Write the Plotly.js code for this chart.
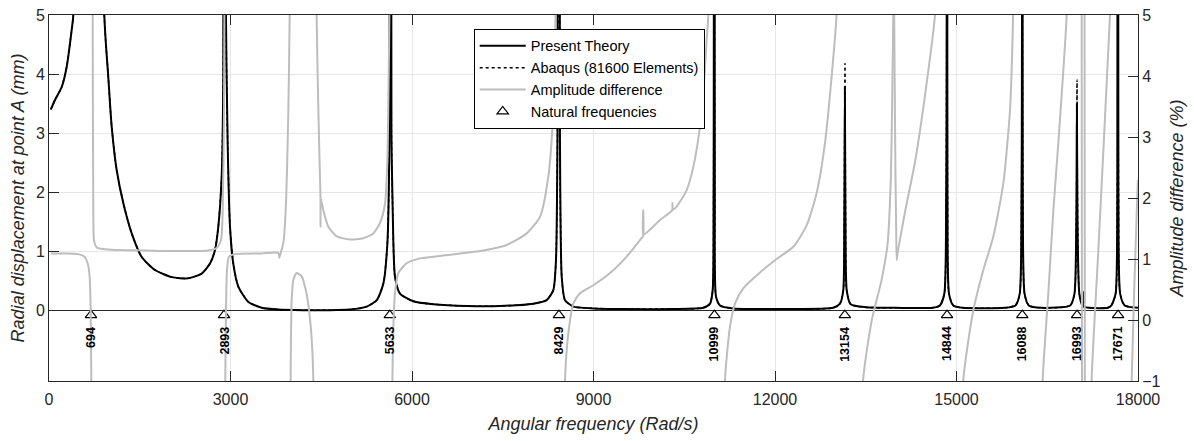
<!DOCTYPE html>
<html><head><meta charset="utf-8">
<script src="https://cdn.plot.ly/plotly-3.0.1.min.js"></script>
<style>html,body{margin:0;padding:0;background:#fff;}#chart{width:1194px;height:441px;}</style>
</head><body><div id="chart"></div>
<script>
// Present Theory: [angular frequency (rad/s), radial displacement (mm)]
const theoryPoints = [
 [30,3.40],[99,3.56],[210,3.78],[292,4.12],[375,4.75],[402,5.0],[694,40],[914,5.0],[980,3.95],[1036,3.11],
 [1119,2.37],[1229,1.81],[1367,1.30],[1532,0.90],[1752,0.68],[2028,0.56],[2302,0.54],[2524,0.62],[2661,0.79],
 [2744,1.02],[2798,1.41],[2854,2.26],[2881,3.95],[2900,40],[2925,5.0],[2953,2.82],[2992,1.41],[3046,0.79],
 [3129,0.40],[3295,0.14],[3515,0.04],[3791,0.01],[4200,0.0],[4600,0.0],[4975,0.01],[5251,0.06],[5417,0.17],
 [5527,0.45],[5593,1.13],[5626,2.82],[5642,40],[5660,3.0],[5681,1.69],[5719,0.56],[5802,0.28],[6022,0.15],
 [6352,0.10],[6904,0.07],[7455,0.07],[8006,0.11],[8226,0.17],[8336,0.34],[8380,0.85],[8405,3.0],[8425,40],
 [8445,3.0],[8475,0.56],[8529,0.17],[8667,0.06],[8997,0.03],[9500,0.02],[10300,0.02],[10815,0.04],[10926,0.11],
 [10970,0.34],[10985,2.0],[10995,40],[11005,2.0],[11025,0.23],[11091,0.08],[11311,0.03],[12000,0.02],
 [12963,0.04],[13074,0.11],[13129,0.34],[13145,1.5],[13155,3.78],[13165,1.5],[13185,0.34],[13250,0.10],
 [13500,0.05],[14000,0.04],[14600,0.04],[14727,0.08],[14799,0.28],[14830,2.0],[14840,40],[14850,2.0],
 [14876,0.28],[14947,0.08],[15100,0.04],[15800,0.04],[15975,0.08],[16045,0.28],[16075,2.0],[16085,40],
 [16095,2.0],[16125,0.28],[16195,0.08],[16400,0.04],[16880,0.08],[16950,0.28],[16980,1.5],[16990,3.5],
 [17000,1.5],[17030,0.28],[17080,0.08],[17105,0.06],[17110,0.31],[17115,0.06],[17200,0.04],[17500,0.04],
 [17560,0.08],[17630,0.28],[17658,2.0],[17667,40],[17676,2.0],[17705,0.28],[17780,0.08],[18000,0.04]
];
// Abaqus (81600 Elements)
const abaqusPoints = [
 [30,3.40],[99,3.56],[210,3.78],[292,4.12],[375,4.75],[402,5.0],[694,40],[914,5.0],[980,3.95],[1036,3.11],
 [1119,2.37],[1229,1.81],[1367,1.30],[1532,0.90],[1752,0.68],[2028,0.56],[2302,0.54],[2524,0.62],[2661,0.79],
 [2744,1.02],[2798,1.41],[2854,2.26],[2881,3.95],[2900,40],[2925,5.0],[2953,2.82],[2992,1.41],[3046,0.79],
 [3129,0.40],[3295,0.14],[3515,0.04],[3791,0.01],[4200,0.0],[4600,0.0],[4975,0.01],[5251,0.06],[5417,0.17],
 [5527,0.45],[5593,1.13],[5626,2.82],[5642,40],[5660,3.0],[5681,1.69],[5719,0.56],[5802,0.28],[6022,0.15],
 [6352,0.10],[6904,0.07],[7455,0.07],[8006,0.11],[8226,0.17],[8336,0.34],[8380,0.85],[8405,3.0],[8425,40],
 [8445,3.0],[8475,0.56],[8529,0.17],[8667,0.06],[8997,0.03],[9500,0.02],[10300,0.02],[10815,0.04],[10926,0.11],
 [10970,0.34],[10985,2.0],[10995,40],[11005,2.0],[11025,0.23],[11091,0.08],[11311,0.03],[12000,0.02],
 [12963,0.04],[13074,0.11],[13129,0.34],[13145,1.5],[13157,4.18],[13167,1.5],[13185,0.34],[13250,0.10],
 [13500,0.05],[14000,0.04],[14600,0.04],[14727,0.08],[14799,0.28],[14830,2.0],[14842,40],[14852,2.0],
 [14876,0.28],[14947,0.08],[15100,0.04],[15800,0.04],[15975,0.08],[16045,0.28],[16075,2.0],[16087,40],
 [16097,2.0],[16125,0.28],[16195,0.08],[16400,0.04],[16880,0.08],[16950,0.28],[16982,1.5],[16992,3.9],
 [17002,1.5],[17030,0.28],[17080,0.08],[17105,0.06],[17110,0.31],[17115,0.06],[17200,0.04],[17500,0.04],
 [17560,0.08],[17630,0.28],[17660,2.0],[17669,40],[17678,2.0],[17705,0.28],[17780,0.08],[18000,0.04]
];
// Amplitude difference (%) : branches separated by null
const ampPoints = [
 [33,1.09],[264,1.09],[484,1.08],[583,1.04],[639,0.93],[672,0.71],[689,0.16],[699,-0.98],[703,-3],[null,null],
 [716,8],[722,5.0],[732,1.80],[744,1.31],[788,1.19],[1036,1.15],[1587,1.14],[2137,1.13],[2633,1.14],[2771,1.18],
 [2843,1.31],[2871,1.80],[2893,3.44],[2906,7],[null,null],
 [2911,-3],[2914,-0.98],[2926,0.16],[2942,0.82],[2975,1.04],[3074,1.08],[3515,1.09],[3790,1.10],[3808,1.02],
 [3830,1.10],[3873,1.26],[3912,1.80],[3956,3.44],[3978,5.0],[3982,7],[null,null],
 [3986,-3],[3995,-0.77],[4011,0.33],[4039,0.66],[4094,0.77],[4176,0.72],[4259,0.42],[4314,0.02],[4352,-0.49],
 [4369,-1.0],[4375,-3],[null,null],
 [4418,7],[4424,5.0],[4452,3.44],[4479,2.35],[4487,2.02],[4488,1.53],[4490,2.0],[4534,1.80],[4617,1.53],
 [4755,1.37],[4975,1.32],[5196,1.34],[5361,1.42],[5471,1.59],[5554,1.91],[5593,2.62],[5615,3.99],[5626,5.0],
 [5632,7],[null,null],
 [5668,-3],[5676,-1.0],[5692,-0.11],[5719,0.44],[5774,0.77],[5912,0.93],[6132,1.01],[6628,1.07],[7179,1.14],
 [7564,1.23],[7895,1.42],[8115,1.69],[8253,2.35],[8336,3.44],[8372,5.0],[8380,7],[null,null],
 [8522,-3],[8529,-0.98],[8584,-0.22],[8667,0.27],[8777,0.44],[8997,0.57],[9273,0.77],[9548,1.04],[9768,1.31],
 [9820,1.38],[9823,1.80],[9826,1.40],[10099,1.64],[10300,1.80],[10305,1.92],[10310,1.81],[10374,1.86],
 [10540,2.13],[10650,2.51],[10760,3.17],[10815,3.72],[10870,4.59],[10898,5.0],[10910,7],[null,null],
 [11165,-3],[11173,-0.98],[11256,-0.11],[11339,0.27],[11476,0.52],[11752,0.78],[12027,1.0],[12303,1.2],
 [12523,1.55],[12688,2.08],[12826,2.90],[12936,3.99],[13017,5.0],[13030,7],[null,null],
 [13448,-3],[13455,-1.0],[13600,0.0],[13760,0.65],[13860,1.24],[13915,2.33],[13942,3.97],[13955,5.0],[13960,7],[null,null],
 [13962,7],[13970,5.0],[13990,2.5],[14003,1.5],[14011,0.98],[14030,1.12],[14149,1.77],[14314,2.59],[14479,3.68],
 [14645,5.0],[14660,5.4],[null,null],
 [15100,-3],[15113,-0.98],[15278,0.16],[15443,0.82],[15609,1.37],[15774,2.24],[15884,3.44],[15935,5.0],[15945,6],[null,null],
 [16415,-3],[16425,-0.98],[16518,0.44],[16601,1.80],[16683,2.90],[16821,5.0],[16830,6],[null,null],
 [17068,6],[17075,-2],[null,null],
 [17116,6],[17122,-2],[null,null],
 [17225,-3],[17233,-1.0],[17345,1.15],[17537,5.0],[17545,5.3],[null,null],
 [17890,-3],[17895,-1.0],[17990,2.1],[18000,2.3]
];
// Natural frequencies (rad/s)
const natFreq = [694, 2893, 5633, 8429, 10999, 13154, 14844, 16088, 16993, 17671];
const natLabels = ['694','2893','5633','8429','10999','13154','14844','16088','16993','17671'];
// Axis ticks
const xTicks = [0, 3000, 6000, 9000, 12000, 15000, 18000];
const yLeftTicks = [0, 1, 2, 3, 4, 5];
const yRightTicks = [-1, 0, 1, 2, 3, 4, 5];

const markerLevel = -0.085;
const labelLevel = -0.26;
const axisCol = '#262626';
const gridCol = '#e6e6e6';
const fontFam = '"Liberation Sans", Arial, Helvetica, sans-serif';

const col = (pts, i) => pts.map(p => p[i]);

const traces = [
 {x: col(ampPoints,0), y: col(ampPoints,1), yaxis:'y2', type:'scatter', mode:'lines',
  name:'Amplitude difference', line:{color:'#bdbdbd', width:2, shape:'spline', smoothing:0.6}, connectgaps:false,
  legendrank:3, hoverinfo:'skip'},
 {x: col(theoryPoints,0), y: col(theoryPoints,1), type:'scatter', mode:'lines',
  name:'Present Theory', line:{color:'#000', width:2, shape:'spline', smoothing:0.6}, legendrank:1, hoverinfo:'skip'},
 {x: col(abaqusPoints,0), y: col(abaqusPoints,1), type:'scatter', mode:'lines',
  name:'Abaqus (81600 Elements)', line:{color:'#000', width:1.5, dash:'dot', shape:'spline', smoothing:0.6}, legendrank:2, hoverinfo:'skip'},
 {x: natFreq, y: natFreq.map(() => markerLevel), type:'scatter', mode:'markers',
  name:'Natural frequencies', marker:{symbol:'triangle-up-open', size:10, color:'#000', line:{width:1.2, color:'#000'}},
  legendrank:4, hoverinfo:'skip', cliponaxis:false}
];

const annotations = natFreq.map((f, i) => ({
  x: f, y: labelLevel, xref:'x', yref:'y', text: '<b>' + natLabels[i] + '</b>', textangle:-90,
  showarrow:false, xanchor:'center', yanchor:'top', font:{size:12.5, color:'#000', family:fontFam}, borderpad:0
}));

const layout = {
  width:1194, height:441,
  margin:{l:49, r:56, t:15, b:60},
  paper_bgcolor:'#fff', plot_bgcolor:'#fff',
  font:{family:fontFam, color:axisCol, size:16},
  showlegend:true,
  legend:{x:0.39, y:0.962, xanchor:'left', yanchor:'top', bgcolor:'#fff', bordercolor:'#000', borderwidth:1,
          font:{size:14.5, color:'#000', family:fontFam}, traceorder:'normal', itemwidth:46},
  xaxis:{range:[0,18000], tickvals:xTicks, ticktext:xTicks.map(String), ticks:'inside', ticklen:10,
         tickcolor:axisCol, showline:true, linecolor:axisCol, linewidth:1, mirror:'ticks',
         showgrid:true, gridcolor:gridCol, zeroline:false, tickfont:{size:16}, ticklabelstandoff:4,
         title:{text:'<i>Angular frequency (Rad/s)</i>', font:{size:18}, standoff:10}},
  yaxis:{range:[-1.2,5], tickvals:yLeftTicks, ticks:'inside', ticklen:10, tickcolor:axisCol,
         showline:true, linecolor:axisCol, linewidth:1, showgrid:true, gridcolor:gridCol,
         zeroline:true, zerolinecolor:axisCol, zerolinewidth:1, tickfont:{size:16},
         title:{text:'<i>Radial displacement at point A (mm)</i>', font:{size:18}, standoff:6}},
  yaxis2:{range:[-1,5], tickvals:yRightTicks, overlaying:'y', side:'right', ticks:'inside', ticklen:10,
          tickcolor:axisCol, showline:true, linecolor:axisCol, linewidth:1, showgrid:false, zeroline:false,
          tickfont:{size:16}, title:{text:'<i>Amplitude difference (%)</i>', font:{size:18}, standoff:10}},
  annotations: annotations
};

Plotly.newPlot('chart', traces, layout, {displayModeBar:false, staticPlot:true});
</script>
</body></html>
